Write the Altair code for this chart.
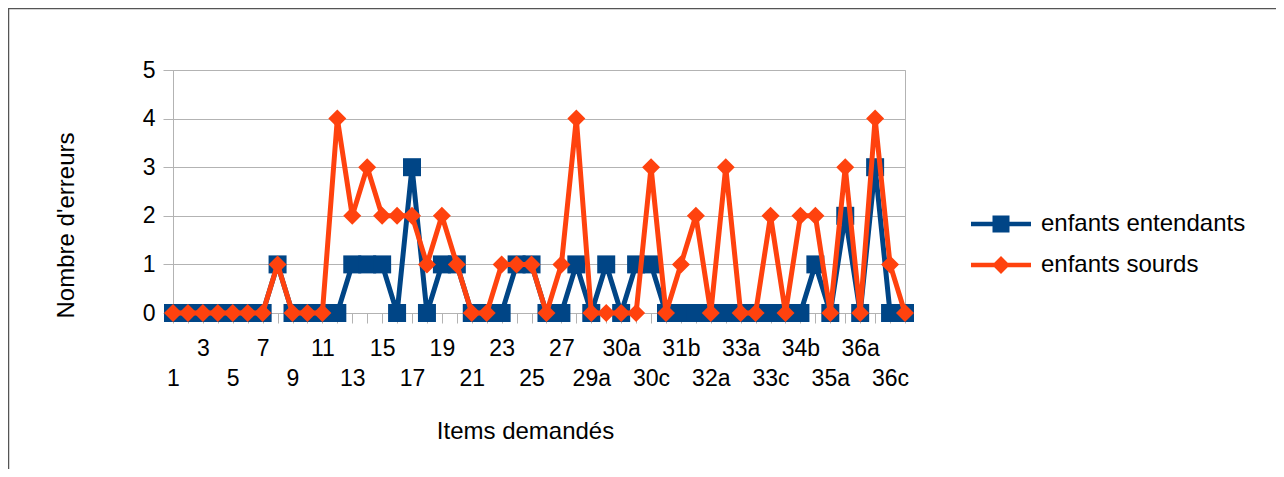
import json
import altair as alt
import pandas as pd

items = ["1", "2", "3", "4", "5", "6", "7", "8", "9", "10",
         "11", "12", "13", "14", "15", "16", "17", "18", "19", "20",
         "21", "22", "23", "24", "25", "26", "27", "28",
         "29a", "29b", "30a", "30b", "30c", "31a", "31b", "31c",
         "32a", "32b", "33a", "33b", "33c", "34a", "34b", "34c",
         "35a", "35b", "36a", "36b", "36c", "36d"]

entendants = [0, 0, 0, 0, 0, 0, 0, 1, 0, 0,
              0, 0, 1, 1, 1, 0, 3, 0, 1, 1,
              0, 0, 0, 1, 1, 0, 0, 1,
              0, 1, 0, 1, 1, 0, 0, 0,
              0, 0, 0, 0, 0, 0, 0, 1,
              0, 2, 0, 3, 0, 0]

sourds = [0, 0, 0, 0, 0, 0, 0, 1, 0, 0,
          0, 4, 2, 3, 2, 2, 2, 1, 2, 1,
          0, 0, 1, 1, 1, 0, 1, 4,
          0, 0, 0, 0, 3, 0, 1, 2,
          0, 3, 0, 0, 2, 0, 2, 2,
          0, 3, 0, 4, 1, 0]

series = ["enfants entendants", "enfants sourds"]
colors = ["#004586", "#ff420e"]
y_ticks = [0, 1, 2, 3, 4, 5]

rows = []
for name, vals in zip(series, [entendants, sourds]):
    for it, v in zip(items, vals):
        rows.append({"item": it, "serie": name, "value": v})
df = pd.DataFrame(rows)

FONT = "Liberation Sans"

bottom_labels = items[0::4]
top_labels = items[2::4]
label_expr = (
    "indexof(%s, datum.value) >= 0 ? ['', datum.value] : "
    "(indexof(%s, datum.value) >= 0 ? datum.value : '')"
    % (json.dumps(bottom_labels), json.dumps(top_labels))
)

x_enc = alt.X(
    "item:N",
    sort=items,
    scale=alt.Scale(type="point", padding=0),
    axis=alt.Axis(
        title="Items demandés",
        labelExpr=label_expr,
        labelAngle=0,
        labelBaseline="top",
        labelAlign="center",
        labelLineHeight=30,
        labelPadding=14,
        labelOverlap=False,
        labelBound=False,
        labelFontSize=23,
        tickSize=10,
        grid=False,
        titleX=352,
        titleY=125,
        titleBaseline="alphabetic",
        titleAlign="center",
        titleFontSize=24,
    ),
)
y_enc = alt.Y(
    "value:Q",
    scale=alt.Scale(domain=[0, 5], nice=False, zero=True),
    axis=alt.Axis(
        title="Nombre d'erreurs",
        values=y_ticks,
        format="d",
        labelFontSize=23,
        labelPadding=8,
        tickSize=10,
        grid=True,
        titleX=-100,
        titleY=155,
        titleAngle=270,
        titleBaseline="alphabetic",
        titleAlign="center",
        titleFontSize=24,
    ),
)

color_enc = alt.Color("serie:N", scale=alt.Scale(domain=series, range=colors), legend=None)

base = alt.Chart(df).encode(x=x_enc, y=y_enc)

layers = []
for name, shp in zip(series, ["square", "diamond"]):
    sub = base.transform_filter(alt.datum.serie == name)
    layers.append(sub.mark_line(strokeWidth=5).encode(color=color_enc))
    layers.append(
        sub.mark_point(filled=True, shape=shp, size=324, opacity=1, strokeWidth=0).encode(color=color_enc)
    )

path_square = ("M-3,-0.23L-0.85,-0.23L-0.85,-0.85L0.85,-0.85L0.85,-0.23L3,-0.23L3,0.23"
               "L0.85,0.23L0.85,0.85L-0.85,0.85L-0.85,0.23L-3,0.23Z")
path_diamond = ("M-3,-0.23L-0.67,-0.23L0,-0.9L0.67,-0.23L3,-0.23L3,0.23L0.67,0.23"
                "L0,0.9L-0.67,0.23L-3,0.23Z")

legend_def = alt.Legend(
    title=None,
    orient="none",
    legendX=816,
    legendY=142,
    labelFont=FONT,
    labelFontSize=24,
    labelColor="#000000",
    labelOffset=28,
    labelLimit=400,
    rowPadding=17,
    symbolSize=400,
    symbolStrokeWidth=0,
    padding=0,
)

legend_layer = (
    alt.Chart(df)
    .transform_filter("false")
    .mark_point(filled=True, strokeWidth=0, opacity=1)
    .encode(
        x=x_enc,
        y=y_enc,
        color=alt.Color("serie:N", scale=alt.Scale(domain=series, range=colors), legend=legend_def),
        shape=alt.Shape("serie:N", scale=alt.Scale(domain=series, range=[path_square, path_diamond]),
                        legend=legend_def),
    )
)

frame_src = pd.DataFrame({"a": [0]})
frame_top = (
    alt.Chart(frame_src)
    .mark_rule(color="#555555", strokeWidth=1.5)
    .encode(x=alt.value(-165), x2=alt.value(1300), y=alt.value(-61.5))
)
frame_left = (
    alt.Chart(frame_src)
    .mark_rule(color="#555555", strokeWidth=1.5)
    .encode(x=alt.value(-164.5), y=alt.value(-62), y2=alt.value(600))
)

chart = (
    alt.layer(frame_top, frame_left, *layers, legend_layer)
    .resolve_scale(color="independent", shape="independent")
    .properties(
        width=732,
        height=243,
        autosize=alt.AutoSizeParams(type="none"),
        padding={"left": 165, "top": 62, "right": 371, "bottom": 156},
        background="white",
    )
    .configure_axis(
        labelFont=FONT,
        titleFont=FONT,
        labelColor="#000000",
        titleColor="#000000",
        titleFontWeight="normal",
        gridColor="#b3b3b3",
        domainColor="#b3b3b3",
        tickColor="#b3b3b3",
        gridWidth=1,
        domainWidth=1,
        tickWidth=1,
    )
    .configure_view(stroke="#b3b3b3", strokeWidth=1)
)

chart.save("out.html", embed_options={"renderer": "svg", "actions": False})
